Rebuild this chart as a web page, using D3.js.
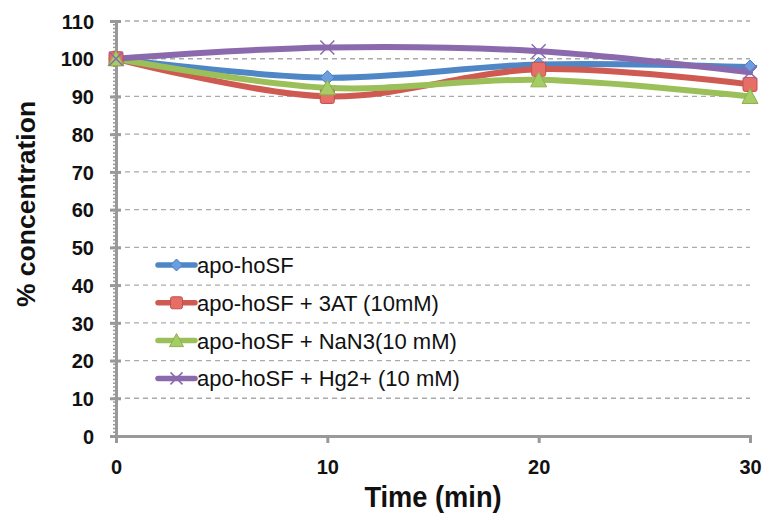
<!DOCTYPE html>
<html><head><meta charset="utf-8">
<script src="https://cdn.jsdelivr.net/npm/d3@7"></script>
<style>body{margin:0;background:#fff}</style>
</head><body><svg id="c" width="762" height="515"></svg>
<script>
const times = [0, 10, 20, 30];
const seriesNames = ["apo-hoSF", "apo-hoSF + 3AT (10mM)", "apo-hoSF + NaN3(10 mM)", "apo-hoSF + Hg2+ (10 mM)"];
const blueVals = [100, 95, 98.5, 97.8];
const redVals = [100, 90, 97.2, 93.2];
const greenVals = [100, 92.3, 94.4, 90];
const purpleVals = [100, 103, 102, 96.4];
const yTicks = [0,10,20,30,40,50,60,70,80,90,100,110];
const xTicks = [0,10,20,30];
const colors = ["#4f86c6", "#cf5a52", "#9bc05a", "#8b69ad"];
const markers = ["diamond", "square", "triangle", "x"];
const allVals = [blueVals, redVals, greenVals, purpleVals];

const svg = d3.select("#c");
const x = d3.scaleLinear().domain([0,30]).range([116,750]);
const y = d3.scaleLinear().domain([0,110]).range([436,21]);
const font = "'Liberation Sans',Arial,Helvetica,sans-serif";

// grid
svg.append("g").selectAll("line").data(yTicks.filter(d=>d>0)).join("line")
  .attr("x1", x(0)).attr("x2", x(30)).attr("y1", d=>y(d)).attr("y2", d=>y(d))
  .attr("stroke", "#aaa").attr("stroke-width", 1.3).attr("stroke-dasharray", "5,4");

// y minor ticks
svg.append("g").selectAll("line").data(d3.range(0,111,1)).join("line")
  .attr("x1", x(0)-3).attr("x2", x(0)).attr("y1", d=>y(d)).attr("y2", d=>y(d))
  .attr("stroke", "#999").attr("stroke-width", 1.5);

// y axis
const yAxis = d3.axisLeft(y).tickValues(yTicks).tickSize(6).tickPadding(16);
const gy = svg.append("g").attr("transform", `translate(${x(0)},0)`).call(yAxis);
gy.select(".domain").attr("stroke", "#999").attr("stroke-width", 3);
gy.selectAll(".tick line").attr("stroke", "#999").attr("stroke-width", 3).attr("x2", 5).attr("x1",-6);
gy.selectAll(".tick text").attr("font-family", font).attr("font-weight", "bold")
  .attr("font-size", 20).attr("fill", "#111").attr("dy", "0.36em");

// x axis
const xAxis = d3.axisBottom(x).tickValues(xTicks).tickSize(7).tickPadding(17);
const gx = svg.append("g").attr("transform", `translate(0,${y(0)})`).call(xAxis);
gx.select(".domain").attr("stroke", "#999").attr("stroke-width", 3);
gx.selectAll(".tick line").attr("stroke", "#999").attr("stroke-width", 3);
gx.selectAll(".tick text").attr("font-family", font).attr("font-weight", "bold")
  .attr("font-size", 20).attr("fill", "#111");

// axis titles
svg.append("text").attr("transform", "translate(433,507) scale(0.94,1)").attr("text-anchor", "middle")
  .attr("font-family", font).attr("font-weight", "bold").attr("font-size", 29).attr("fill", "#111")
  .text("Time (min)");
svg.append("text").attr("transform", "translate(35,204) rotate(-90)").attr("text-anchor", "middle")
  .attr("font-family", font).attr("font-weight", "bold").attr("font-size", 26.5).attr("fill", "#111")
  .text("% concentration");

const line = d3.line().x((d,i)=>x(times[i])).y(d=>y(d)).curve(d3.curveCardinal.tension(0));

function drawMarker(g, type, cx, cy, color, s) {
  if (type === "diamond") {
    g.append("path").attr("d", `M${cx},${cy-s}L${cx+s},${cy}L${cx},${cy+s}L${cx-s},${cy}Z`)
      .attr("fill", "#6a9ee0").attr("stroke", "#4a7fc0").attr("stroke-width", 1);
  } else if (type === "square") {
    g.append("rect").attr("x", cx-s).attr("y", cy-s).attr("width", 2*s).attr("height", 2*s).attr("rx", 2)
      .attr("fill", "#e66e66").attr("stroke", "#c0504d").attr("stroke-width", 1);
  } else if (type === "triangle") {
    g.append("path").attr("d", `M${cx},${cy-s-1}L${cx+s+1},${cy+s}L${cx-s-1},${cy+s}Z`)
      .attr("fill", "#a6cc65").attr("stroke", "#8fb04f").attr("stroke-width", 1);
  } else {
    g.append("path").attr("d", `M${cx-s},${cy-s}L${cx+s},${cy+s}M${cx-s},${cy+s}L${cx+s},${cy-s}`)
      .attr("stroke", color).attr("stroke-width", 1.5).attr("fill", "none");
  }
}

allVals.forEach((vals, k) => {
  const g = svg.append("g");
  g.append("path").datum(vals).attr("d", line).attr("fill", "none")
    .attr("stroke", colors[k]).attr("stroke-width", 6).attr("stroke-linecap", "round");
});
allVals.forEach((vals, k) => {
  const g = svg.append("g");
  vals.forEach((v, i) => drawMarker(g, markers[k], x(times[i]), y(v), colors[k], 7));
});

// legend
const leg = svg.append("g");
seriesNames.forEach((name, k) => {
  const ly = 265 + k*37.8;
  leg.append("line").attr("x1", 158).attr("x2", 195).attr("y1", ly).attr("y2", ly)
    .attr("stroke", colors[k]).attr("stroke-width", 5.5).attr("stroke-linecap", "round");
  drawMarker(leg, markers[k], 176.5, ly, colors[k], 6);
  leg.append("text").attr("x", 197).attr("y", ly+8).attr("font-family", font)
    .attr("font-size", 22).attr("fill", "#111").text(name);
});
</script></body></html>
